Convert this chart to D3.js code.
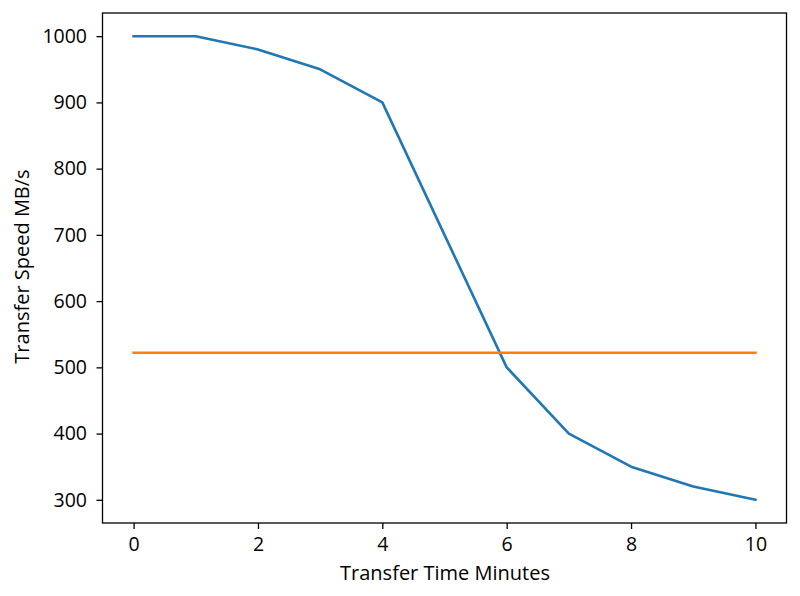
<!DOCTYPE html>
<html><head><meta charset="utf-8">
<script src="https://cdn.jsdelivr.net/npm/d3@7"></script>
<style>body{margin:0;background:#fff}text{font-family:"Open Sans",sans-serif;fill:#000}</style>
</head><body><svg id="c" width="800" height="596"></svg>
<script>
const minutes = [0,1,2,3,4,5,6,7,8,9,10];
const speed = [1000,1000,980,950,900,700,500,400,350,320,300];
const threshold = [522,522,522,522,522,522,522,522,522,522,522];
const xTicks = [0,2,4,6,8,10];
const yTicks = [300,400,500,600,700,800,900,1000];

const svg = d3.select("#c");
const L=102.5, R=786.5, T=13, B=523;
const x = d3.scaleLinear().domain([-0.5,10.5]).range([L,R]);
const y = d3.scaleLinear().domain([265,1035]).range([B,T]);
const fs = 19.5, lfs = 20;

const xa = svg.append("g").attr("transform",`translate(0,${B})`)
  .call(d3.axisBottom(x).tickValues(xTicks).tickSize(6).tickPadding(8).tickFormat(d3.format("d")));
const ya = svg.append("g").attr("transform",`translate(${L},0)`)
  .call(d3.axisLeft(y).tickValues(yTicks).tickSize(6).tickPadding(9.5).tickFormat(d3.format("d")));
[xa,ya].forEach(a=>{
  a.select(".domain").remove();
  a.selectAll("line").attr("stroke","#000").attr("stroke-width",1.3);
  a.selectAll("text").attr("font-size",fs).attr("font-family","Open Sans").attr("fill","#222");
});

const line = d3.line().x((d,i)=>x(minutes[i])).y(d=>y(d));
svg.append("path").datum(speed).attr("d",line).attr("fill","none")
  .attr("stroke","#1f77b4").attr("stroke-width",2.6).attr("stroke-linejoin","round").attr("stroke-linecap","square");
svg.append("path").datum(threshold).attr("d",line).attr("fill","none")
  .attr("stroke","#ff7f0e").attr("stroke-width",2.6).attr("stroke-linecap","square");

svg.append("rect").attr("x",L).attr("y",T).attr("width",R-L).attr("height",B-T)
  .attr("fill","none").attr("stroke","#000").attr("stroke-width",1.3);

svg.append("text").attr("x",(L+R)/2 + 0.5).attr("y",580).attr("text-anchor","middle")
  .attr("font-size",lfs).attr("fill","#222").text("Transfer Time Minutes");
svg.append("text").attr("transform",`translate(29,${(T+B)/2 - 1.5}) rotate(-90)`).attr("text-anchor","middle")
  .attr("font-size",lfs).attr("fill","#222").text("Transfer Speed MB/s");
</script></body></html>
